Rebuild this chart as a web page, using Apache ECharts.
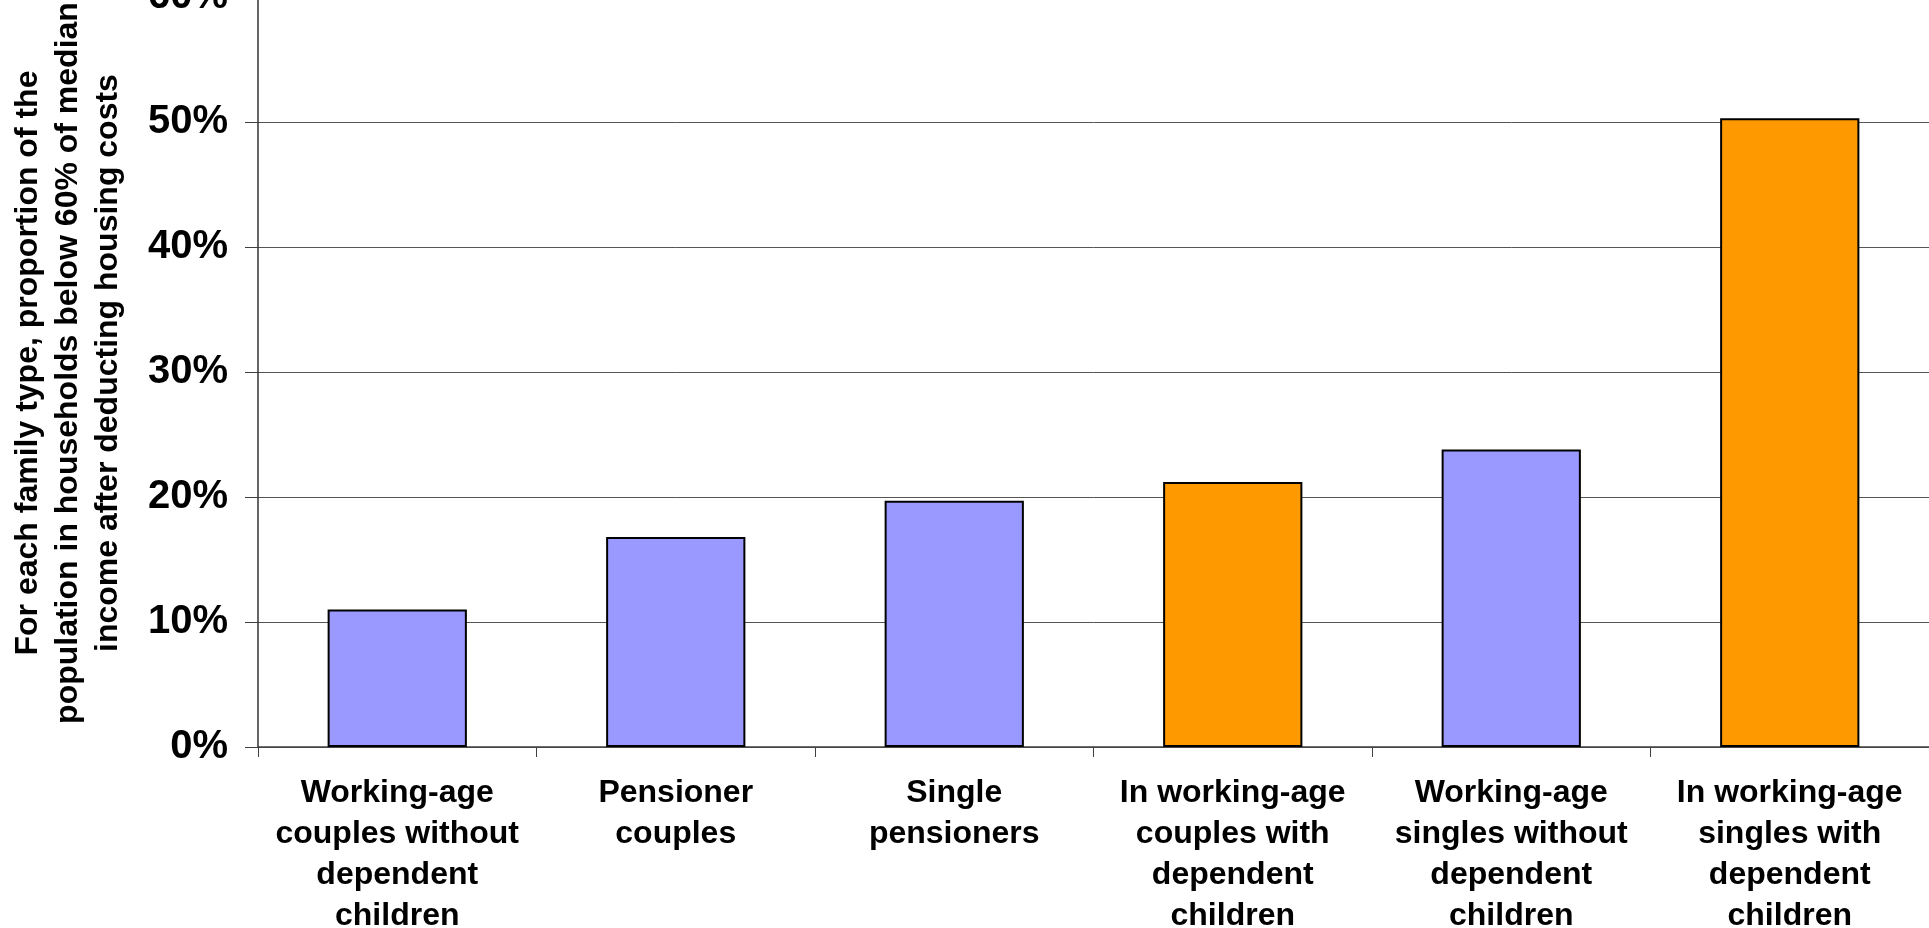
<!DOCTYPE html>
<html>
<head>
<meta charset="utf-8">
<script src="https://cdn.jsdelivr.net/npm/echarts@6/dist/echarts.min.js"></script>
<style>
html,body{margin:0;padding:0;background:#fff;}
#chart{width:1929px;height:928px;}
</style>
</head>
<body>
<div id="chart"></div>
<script>
var categories = [
  "Working-age\ncouples without\ndependent\nchildren",
  "Pensioner\ncouples",
  "Single\npensioners",
  "In working-age\ncouples with\ndependent\nchildren",
  "Working-age\nsingles without\ndependent\nchildren",
  "In working-age\nsingles with\ndependent\nchildren"
];
var withoutChildrenValues = [11.0, 16.8, 19.7, '-', 23.8, '-'];
var withChildrenValues = ['-', '-', '-', 21.2, '-', 50.3];
var yTicks = { min: 0, max: 60, interval: 10 };
var yAxisTitle = "For each family type, proportion of the\npopulation in households below 60% of median\nincome after deducting housing costs";

var FONT = "'Liberation Sans', Arial, sans-serif";
var chart = echarts.init(document.getElementById('chart'));
chart.setOption({
  animation: false,
  backgroundColor: '#ffffff',
  grid: { left: 258, right: 0, top: -3, bottom: 181, containLabel: false, outerBoundsMode: 'none' },
  xAxis: {
    type: 'category',
    data: categories,
    axisLine: { show: true, lineStyle: { color: '#404040', width: 1.5 } },
    axisTick: { show: true, length: 10, inside: false, alignWithLabel: false, lineStyle: { color: '#404040', width: 1 } },
    axisLabel: {
      interval: 0, margin: 26, color: '#000', fontFamily: FONT, fontWeight: 'bold',
      fontSize: 32, lineHeight: 41, align: 'center'
    },
    splitLine: { show: false }
  },
  yAxis: {
    type: 'value',
    min: yTicks.min, max: yTicks.max, interval: yTicks.interval,
    axisLine: { show: true, lineStyle: { color: '#333', width: 1.5 } },
    axisTick: { show: true, length: 13, lineStyle: { color: '#404040', width: 1 } },
    axisLabel: { formatter: '{value}%', margin: 30, color: '#000', fontFamily: FONT, fontWeight: 'bold', fontSize: 40 },
    splitLine: { show: true, lineStyle: { color: '#555', width: 1 } },
    name: yAxisTitle,
    nameLocation: 'middle',
    nameRotate: 90,
    nameGap: 130,
    nameTextStyle: { color: '#000', fontFamily: FONT, fontWeight: 'bold', fontSize: 32, lineHeight: 40, align: 'center', padding: [0, 0, 0, 18] }
  },
  series: [
    {
      name: 'Without dependent children', type: 'bar', stack: 'all', barWidth: '50%',
      data: withoutChildrenValues,
      itemStyle: { color: '#9999FF', borderColor: '#000', borderWidth: 2 }
    },
    {
      name: 'With dependent children', type: 'bar', stack: 'all', barWidth: '50%',
      data: withChildrenValues,
      itemStyle: { color: '#FF9900', borderColor: '#000', borderWidth: 2 }
    }
  ]
});
</script>
</body>
</html>
